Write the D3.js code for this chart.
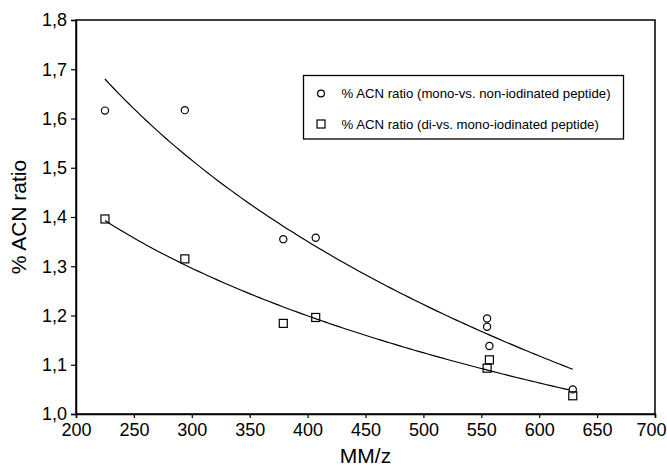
<!DOCTYPE html>
<html>
<head>
<meta charset="utf-8">
<script src="https://cdn.jsdelivr.net/npm/d3@7"></script>
<style>
    body {margin: 0; background: white;}
    svg {font-family: "Liberation Sans", Arial, sans-serif;}
</style>
</head>
<body>
<svg id="chart" width="667" height="468"></svg>
<script>
// mono- vs. non-iodinated peptide
const mono_x = [225, 294, 379, 407, 555, 555, 557, 629];
const mono_y = [1.616, 1.617, 1.355, 1.358, 1.194, 1.177, 1.138, 1.050];

// di- vs. mono-iodinated peptide
const di_x = [225, 294, 379, 407, 557, 555, 629];
const di_y = [1.396, 1.315, 1.184, 1.196, 1.110, 1.093, 1.037];

const x_ticks = [200, 250, 300, 350, 400, 450, 500, 550, 600, 650, 700];
const y_ticks = [1.0, 1.1, 1.2, 1.3, 1.4, 1.5, 1.6, 1.7, 1.8];

const legend_labels = [
    "% ACN ratio (mono-vs. non-iodinated peptide)",
    "% ACN ratio (di-vs. mono-iodinated peptide)"
];


const w = 667, h = 468;
const margin = {left: 76, right: 12, top: 20, bottom: 54};

const svg = d3.select("#chart");

const x = d3.scaleLinear().domain([200, 700]).range([margin.left, w-margin.right]);
const y = d3.scaleLinear().domain([1.0, 1.8]).range([h-margin.bottom, margin.top]);

const comma = d3.formatLocale({decimal: ",", thousands: ".", grouping: [3], currency: ["", ""]}).format(".1f");

// frame
svg.append("rect")
    .attr("x", x(200)).attr("y", y(1.8))
    .attr("width", x(700)-x(200)).attr("height", y(1.0)-y(1.8))
    .style("fill", "none").style("stroke", "black").style("stroke-width", 1.5);

// axis_x
const axis_x = svg.append("g")
    .attr("transform", `translate(0, ${h-margin.bottom})`)
    .call(d3.axisBottom(x).tickValues(x_ticks).tickSize(4).tickPadding(5).tickFormat(d3.format("d")));

// axis_y
const axis_y = svg.append("g")
    .attr("transform", `translate(${margin.left}, 0)`)
    .call(d3.axisLeft(y).tickValues(y_ticks).tickSize(5).tickPadding(4).tickFormat(comma));

[axis_x, axis_y].forEach(g => {
    g.select(".domain").style("stroke", "black").style("stroke-width", 1.5);
    g.selectAll(".tick line").style("stroke", "black").style("stroke-width", 1.2);
    g.selectAll(".tick text").style("font-size", "18px").style("fill", "black")
        .style("font-family", "'Liberation Sans', Arial, sans-serif");
});

// last x label is pulled in so it stays inside the page
axis_x.selectAll(".tick text").filter(d => d === 700)
    .attr("text-anchor", "end").attr("x", w-1-x(700));

// titles
svg.append("text")
    .attr("x", (x(200)+x(700))/2).attr("y", h-5)
    .attr("text-anchor", "middle").style("font-size", "21px")
    .text("MM/z");

svg.append("text")
    .attr("transform", `translate(26, ${(y(1.0)+y(1.8))/2}) rotate(-90)`)
    .attr("text-anchor", "middle").style("font-size", "21px")
    .text("% ACN ratio");


// logarithmic fit y = a + b*ln(x), least squares
const log_fit = (xs, ys) => {
    const lx = xs.map(Math.log);
    const mx = d3.mean(lx), my = d3.mean(ys);
    const sxy = d3.sum(lx, (v, i) => (v-mx)*(ys[i]-my));
    const sxx = d3.sum(lx, v => (v-mx)*(v-mx));
    const b = sxy/sxx;
    const a = my - b*mx;
    const [x0, x1] = d3.extent(xs);
    return d3.range(0, 101).map(i => {
        const xv = x0 + (x1-x0)*i/100;
        return [xv, a + b*Math.log(xv)];
    });
};

const line = d3.line().x(d => x(d[0])).y(d => y(d[1])).curve(d3.curveLinear);

// fit_lines
svg.append("g").selectAll("path").data([log_fit(mono_x, mono_y), log_fit(di_x, di_y)]).enter().append("path")
    .attr("d", line)
    .style("fill", "none").style("stroke", "black").style("stroke-width", 1.2);

// circles
svg.append("g").selectAll("circle").data(mono_x.map((v, i) => [v, mono_y[i]])).enter().append("circle")
    .attr("cx", d => x(d[0])).attr("cy", d => y(d[1])).attr("r", 3.6)
    .style("fill", "white").style("stroke", "black").style("stroke-width", 1.2);

// squares
const sq = 8;
svg.append("g").selectAll("rect").data(di_x.map((v, i) => [v, di_y[i]])).enter().append("rect")
    .attr("x", d => x(d[0])-sq/2).attr("y", d => y(d[1])-sq/2)
    .attr("width", sq).attr("height", sq)
    .style("fill", "none").style("stroke", "black").style("stroke-width", 1.2);


// legend
const legend = svg.append("g");
legend.append("rect")
    .attr("x", 303.5).attr("y", 75.5).attr("width", 320).attr("height", 63.5)
    .style("fill", "white").style("stroke", "black").style("stroke-width", 1.3);

const rows = [93.5, 124];
legend.append("circle").attr("cx", 321).attr("cy", rows[0]).attr("r", 3.4)
    .style("fill", "white").style("stroke", "black").style("stroke-width", 1.2);
legend.append("rect").attr("x", 321-4).attr("y", rows[1]-4).attr("width", 8).attr("height", 8)
    .style("fill", "none").style("stroke", "black").style("stroke-width", 1.2);

legend.selectAll("text").data(legend_labels).enter().append("text")
    .attr("x", 341.5).attr("y", (d, i) => rows[i]).attr("dy", "0.35em")
    .style("font-size", "13.2px")
    .text(d => d);
</script>
</body>
</html>
